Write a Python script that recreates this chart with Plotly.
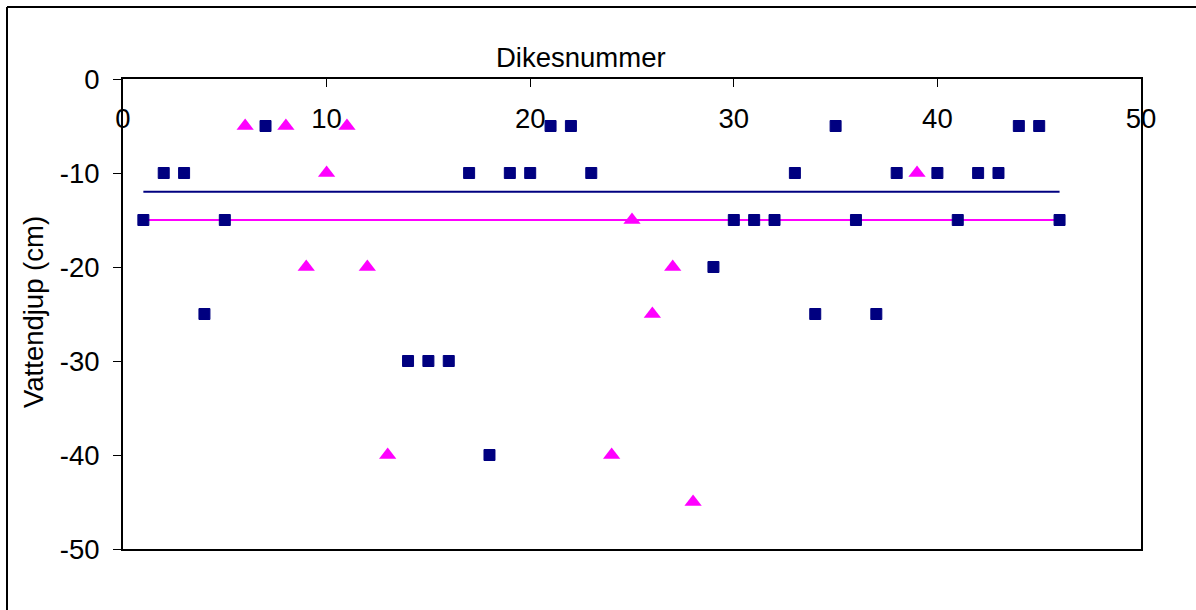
import plotly.graph_objects as go

# Dike measurements: dike number and water depth (cm)
square_x = [1, 2, 3, 4, 5, 7, 14, 15, 16, 17, 18, 19, 20, 21, 22, 23,
            29, 30, 31, 32, 33, 34, 35, 36, 37, 38, 40, 41, 42, 43, 44, 45, 46]
square_y = [-15, -10, -10, -25, -15, -5, -30, -30, -30, -10, -40, -10, -10, -5, -5, -10,
            -20, -15, -15, -15, -10, -25, -5, -15, -25, -10, -10, -15, -10, -10, -5, -5, -15]

triangle_x = [6, 8, 9, 10, 11, 12, 13, 24, 25, 26, 27, 28, 39]
triangle_y = [-5, -5, -20, -10, -5, -20, -40, -40, -15, -25, -20, -45, -10]

# Reference levels spanning dikes 1..46
level_x = [1, 46]
navy_level = [-12, -12]
magenta_level = [-15, -15]

x_ticks = [0, 10, 20, 30, 40, 50]
y_ticks = [0, -10, -20, -30, -40, -50]
y_tick_text = ["0", "-10", "-20", "-30", "-40", "-50"]

NAVY = "#000080"
MAGENTA = "#FF00FF"
FONT = "Liberation Sans, Arial, sans-serif"
FS = 27.5

fig = go.Figure()
fig.add_trace(go.Scatter(x=level_x, y=navy_level, mode="lines",
                         line=dict(color=NAVY, width=2), showlegend=False))
fig.add_trace(go.Scatter(x=level_x, y=magenta_level, mode="lines",
                         line=dict(color=MAGENTA, width=2), showlegend=False))
fig.add_trace(go.Scatter(x=square_x, y=square_y, mode="markers",
                         marker=dict(symbol="square", size=11, color=NAVY,
                                     line=dict(width=1, color=NAVY)),
                         showlegend=False))
fig.add_trace(go.Scatter(x=triangle_x, y=triangle_y, mode="markers",
                         marker=dict(symbol="triangle-up", size=15, color=MAGENTA,
                                     line=dict(width=0)),
                         showlegend=False))

W, H = 1196, 610
L, R, T, B = 123, 1141, 79, 549
pw, ph = R - L, B - T


def px_x(v):
    return (v - L) / pw


def px_y(v):
    return (B - v) / ph


fig.update_layout(
    width=W, height=H,
    margin=dict(l=L, r=W - R, t=T, b=H - B, pad=0),
    paper_bgcolor="white", plot_bgcolor="white",
    font=dict(family=FONT, size=FS, color="black"),
    xaxis=dict(range=[0, 50], tickvals=x_ticks, side="top",
               ticks="inside", ticklen=8, tickwidth=1, tickcolor="black",
               ticklabelposition="outside", ticklabelstandoff=-62,
               showline=True, linecolor="black", linewidth=2, mirror=True,
               showgrid=False, zeroline=False),
    yaxis=dict(range=[-50, 0], tickvals=y_ticks, ticktext=y_tick_text,
               ticks="outside", ticklen=8, tickwidth=1, tickcolor="black",
               ticklabelstandoff=8,
               showline=True, linecolor="black", linewidth=2, mirror=True,
               showgrid=False, zeroline=False),
    annotations=[
        dict(text="Dikesnummer", xref="paper", yref="paper",
             x=px_x(581), y=px_y(57), xanchor="center", yanchor="middle",
             showarrow=False, font=dict(size=FS)),
        dict(text="Vattendjup (cm)", xref="paper", yref="paper",
             x=px_x(33), y=px_y(312), xanchor="center", yanchor="middle",
             textangle=-90, showarrow=False, font=dict(size=FS)),
    ],
    shapes=[
        dict(type="line", xref="paper", yref="paper",
             x0=px_x(7), x1=px_x(W + 5), y0=px_y(7), y1=px_y(7),
             line=dict(color="black", width=2)),
        dict(type="line", xref="paper", yref="paper",
             x0=px_x(7), x1=px_x(7), y0=px_y(7), y1=px_y(H + 5),
             line=dict(color="black", width=2)),
    ],
)

fig.write_html("out.html")
